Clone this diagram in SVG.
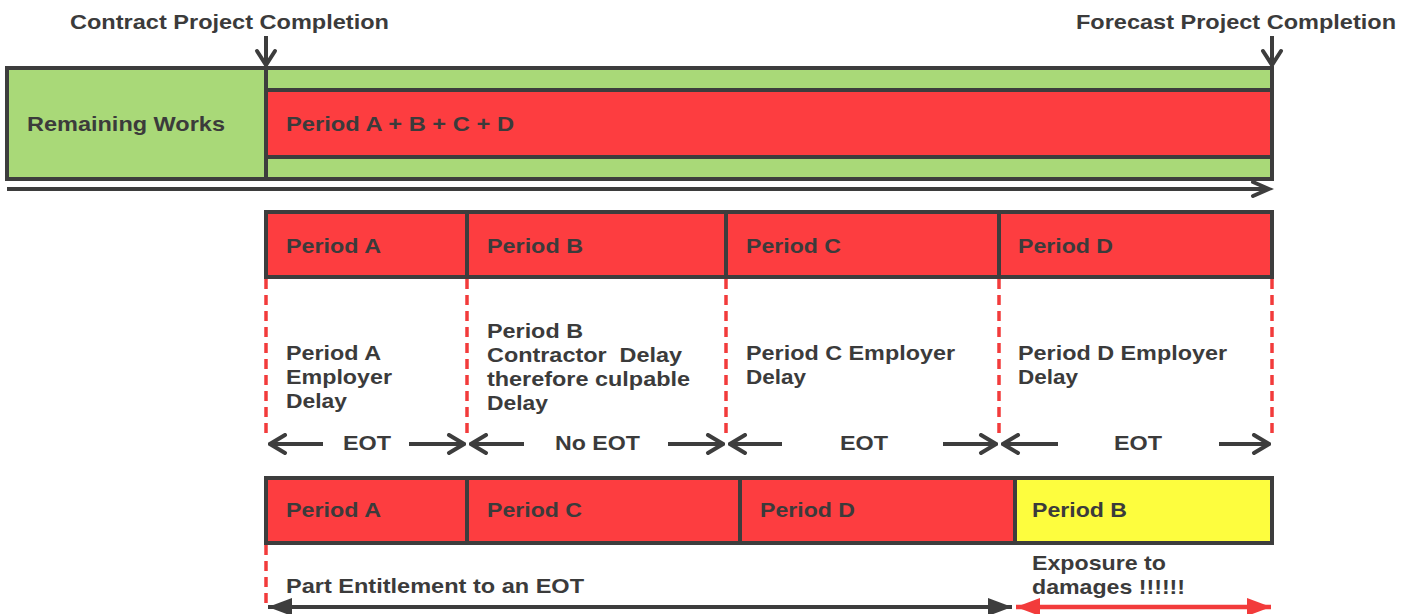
<svg xmlns="http://www.w3.org/2000/svg" width="1413" height="614" viewBox="0 0 1413 614">
  <defs>
    <style>
      text { font-family: "Liberation Sans", Arial, sans-serif; font-weight: bold; font-size: 21px; fill: #3b3b3b; }
      .pre { white-space: pre; }
      .box { stroke: #3d3d3d; stroke-width: 4; }
      .green { fill: #a9d978; }
      .red { fill: #fd3d40; }
      .yellow { fill: #fdfd3e; }
      .line { stroke: #3d3d3d; stroke-width: 4; fill: none; }
      .vee { stroke: #3d3d3d; stroke-width: 4; fill: none; stroke-linecap: round; stroke-linejoin: miter; }
      .dash { stroke: #f23b3b; stroke-width: 3.5; stroke-dasharray: 10 6; fill: none; }
    </style>
    <marker id="open-head" viewBox="0 0 20 22" refX="18" refY="11" markerWidth="20" markerHeight="22" markerUnits="userSpaceOnUse" orient="auto-start-reverse">
      <path d="M3,2 L18,11 L3,20" fill="none" stroke="#3d3d3d" stroke-width="4" stroke-linecap="round"/>
    </marker>
    <marker id="solid-dark" viewBox="0 0 24 18" refX="24" refY="9" markerWidth="24" markerHeight="18" markerUnits="userSpaceOnUse" orient="auto-start-reverse">
      <path d="M0,0 L24,9 L0,18 Z" fill="#3d3d3d"/>
    </marker>
    <marker id="solid-red" viewBox="0 0 24 18" refX="24" refY="9" markerWidth="24" markerHeight="18" markerUnits="userSpaceOnUse" orient="auto-start-reverse">
      <path d="M0,0 L24,9 L0,18 Z" fill="#f23b3b"/>
    </marker>
  </defs>

  <rect width="1413" height="614" fill="#ffffff"/>

  <!-- completion markers -->
  <g id="contract-completion">
    <text x="70" y="29" textLength="319" lengthAdjust="spacingAndGlyphs">Contract Project Completion</text>
  </g>
  <g id="forecast-completion">
    <text x="1076" y="29" textLength="320" lengthAdjust="spacingAndGlyphs">Forecast Project Completion</text>
  </g>

  <!-- programme bar -->
  <g id="remaining-works">
    <rect class="box green" x="7" y="68" width="1265" height="111"/>
    <text x="27" y="131" textLength="198" lengthAdjust="spacingAndGlyphs">Remaining Works</text>
  </g>
  <g id="total-delay">
    <rect class="box red" x="266" y="90" width="1006" height="67"/>
    <line class="line" x1="266" y1="68" x2="266" y2="179"/>
    <text x="286" y="131" textLength="228" lengthAdjust="spacingAndGlyphs">Period A + B + C + D</text>
  </g>

  <!-- delay periods in sequence -->
  <g id="row2-period-a">
    <rect class="box red" x="266" y="212" width="201" height="65"/>
    <text x="286" y="253" textLength="95" lengthAdjust="spacingAndGlyphs">Period A</text>
  </g>
  <g id="row2-period-b">
    <rect class="box red" x="467" y="212" width="259" height="65"/>
    <text x="487" y="253" textLength="96" lengthAdjust="spacingAndGlyphs">Period B</text>
  </g>
  <g id="row2-period-c">
    <rect class="box red" x="726" y="212" width="273" height="65"/>
    <text x="746" y="253" textLength="95" lengthAdjust="spacingAndGlyphs">Period C</text>
  </g>
  <g id="row2-period-d">
    <rect class="box red" x="999" y="212" width="273" height="65"/>
    <text x="1018" y="253" textLength="95" lengthAdjust="spacingAndGlyphs">Period D</text>
  </g>

  <!-- period descriptions -->
  <g id="desc-a">
    <text x="286" y="360" textLength="95" lengthAdjust="spacingAndGlyphs">Period A</text>
    <text x="286" y="384" textLength="106" lengthAdjust="spacingAndGlyphs">Employer</text>
    <text x="286" y="408" textLength="61" lengthAdjust="spacingAndGlyphs">Delay</text>
  </g>
  <g id="desc-b">
    <text x="487" y="338" textLength="96" lengthAdjust="spacingAndGlyphs">Period B</text>
    <text class="pre" x="487" y="362" textLength="195" lengthAdjust="spacingAndGlyphs">Contractor  Delay</text>
    <text x="487" y="386" textLength="203" lengthAdjust="spacingAndGlyphs">therefore culpable</text>
    <text x="487" y="410" textLength="61" lengthAdjust="spacingAndGlyphs">Delay</text>
  </g>
  <g id="desc-c">
    <text x="746" y="360" textLength="209" lengthAdjust="spacingAndGlyphs">Period C Employer</text>
    <text x="746" y="384" textLength="60" lengthAdjust="spacingAndGlyphs">Delay</text>
  </g>
  <g id="desc-d">
    <text x="1018" y="360" textLength="209" lengthAdjust="spacingAndGlyphs">Period D Employer</text>
    <text x="1018" y="384" textLength="60" lengthAdjust="spacingAndGlyphs">Delay</text>
  </g>

  <!-- entitlement labels -->
  <g id="eot-a">
    <text x="343" y="450" textLength="48" lengthAdjust="spacingAndGlyphs">EOT</text>
  </g>
  <g id="eot-b">
    <text x="555" y="450" textLength="85" lengthAdjust="spacingAndGlyphs">No EOT</text>
  </g>
  <g id="eot-c">
    <text x="840" y="450" textLength="48" lengthAdjust="spacingAndGlyphs">EOT</text>
  </g>
  <g id="eot-d">
    <text x="1114" y="450" textLength="48" lengthAdjust="spacingAndGlyphs">EOT</text>
  </g>

  <!-- re-sequenced periods -->
  <g id="row3-period-a">
    <rect class="box red" x="266" y="478" width="201" height="65"/>
    <text x="286" y="517" textLength="95" lengthAdjust="spacingAndGlyphs">Period A</text>
  </g>
  <g id="row3-period-c">
    <rect class="box red" x="467" y="478" width="273" height="65"/>
    <text x="487" y="517" textLength="95" lengthAdjust="spacingAndGlyphs">Period C</text>
  </g>
  <g id="row3-period-d">
    <rect class="box red" x="740" y="478" width="275" height="65"/>
    <text x="760" y="517" textLength="95" lengthAdjust="spacingAndGlyphs">Period D</text>
  </g>
  <g id="row3-period-b">
    <rect class="box yellow" x="1015" y="478" width="257" height="65"/>
    <text x="1032" y="517" textLength="95" lengthAdjust="spacingAndGlyphs">Period B</text>
  </g>

  <g id="part-entitlement">
    <text x="286" y="593" textLength="298" lengthAdjust="spacingAndGlyphs">Part Entitlement to an EOT</text>
  </g>
  <g id="exposure">
    <text x="1032" y="570" textLength="134" lengthAdjust="spacingAndGlyphs">Exposure to</text>
    <text x="1032" y="594" textLength="153" lengthAdjust="spacingAndGlyphs">damages !!!!!!</text>
  </g>

  <!-- connectors -->
  <g id="connectors">
    <!-- completion pointers -->
    <path class="line" d="M266,36 V64"/>
    <path class="vee" d="M257,51 L266,65 L275,51"/>
    <path class="line" d="M1272,36 V64"/>
    <path class="vee" d="M1263,51 L1272,65 L1281,51"/>

    <!-- time axis -->
    <path class="line" d="M7,189 H1268"/>
    <path class="vee" d="M1253,182 L1269,189 L1253,196"/>

    <!-- period boundaries -->
    <path class="dash" d="M266,279 V437"/>
    <path class="dash" d="M467,279 V437"/>
    <path class="dash" d="M726,279 V437"/>
    <path class="dash" d="M999,279 V437"/>
    <path class="dash" d="M1272,279 V437"/>
    <path class="dash" d="M266,545 V606"/>

    <!-- entitlement spans -->
    <path class="line" d="M323,444 H270" marker-end="url(#open-head)"/>
    <path class="line" d="M409,444 H464" marker-end="url(#open-head)"/>
    <path class="line" d="M524,444 H471" marker-end="url(#open-head)"/>
    <path class="line" d="M668,444 H723" marker-end="url(#open-head)"/>
    <path class="line" d="M782,444 H730" marker-end="url(#open-head)"/>
    <path class="line" d="M943,444 H996" marker-end="url(#open-head)"/>
    <path class="line" d="M1058,444 H1003" marker-end="url(#open-head)"/>
    <path class="line" d="M1219,444 H1269" marker-end="url(#open-head)"/>

    <!-- outcome spans -->
    <path d="M268,607 H1012" stroke="#3d3d3d" stroke-width="4" fill="none" marker-start="url(#solid-dark)" marker-end="url(#solid-dark)"/>
    <path d="M1016,607 H1271" stroke="#f23b3b" stroke-width="4.5" fill="none" marker-start="url(#solid-red)" marker-end="url(#solid-red)"/>
  </g>
</svg>
